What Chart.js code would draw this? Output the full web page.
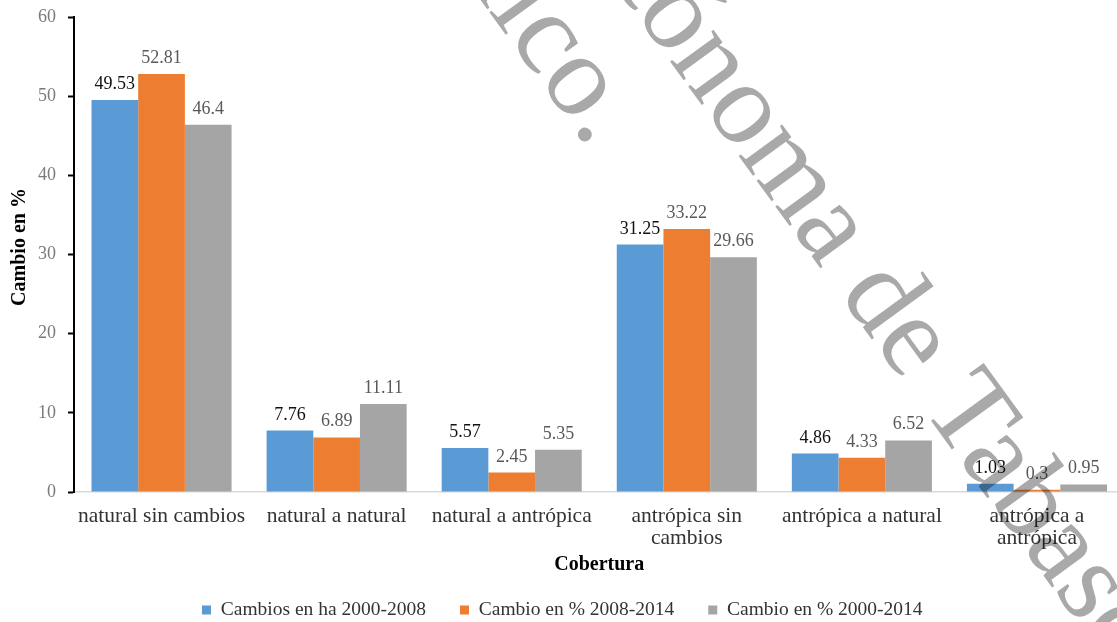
<!DOCTYPE html>
<html>
<head>
<meta charset="utf-8">
<title>Cambio de cobertura</title>
<script src="https://cdn.jsdelivr.net/npm/chart.js@4.4.1/dist/chart.umd.min.js"></script>
<style>
  html, body { margin: 0; padding: 0; overflow: hidden; background: #ffffff; }
  #wrap { width: 1134px; height: 622px; }
</style>
</head>
<body>
<div id="wrap"><canvas id="chart" width="1134" height="622"></canvas></div>
<script>
// Coverage change categories (two-line labels wrap as in the published figure)
const categories = [
  'natural sin cambios',
  'natural a natural',
  'natural a antrópica',
  ['antrópica sin', 'cambios'],
  'antrópica a natural',
  ['antrópica a', 'antrópica']
];

const seriesNames = [
  'Cambios en ha 2000-2008',
  'Cambio en % 2008-2014',
  'Cambio en % 2000-2014'
];

const cambiosHa2000_2008 = [49.53, 7.76, 5.57, 31.25, 4.86, 1.03];
const cambioPct2008_2014 = [52.81, 6.89, 2.45, 33.22, 4.33, 0.3];
const cambioPct2000_2014 = [46.4, 11.11, 5.35, 29.66, 6.52, 0.95];

const yMin = 0;
const yMax = 60;
const yStep = 10;

const watermarkLines = ['Universidad Juárez Autónoma de Tabasco.', 'México.'];

const SERIF = '"Liberation Serif", "Times New Roman", Times, serif';
const seriesColors = ['#5b9bd5', '#ed7d31', '#a5a5a5'];
const valueLabelColors = ['#111111', '#595959', '#595959'];

// Value printed above every bar
const valueLabels = {
  id: 'valueLabels',
  afterDatasetsDraw(chart) {
    const ctx = chart.ctx;
    ctx.save();
    ctx.font = '18px ' + SERIF;
    ctx.textAlign = 'center';
    ctx.textBaseline = 'alphabetic';
    chart.data.datasets.forEach((ds, i) => {
      const meta = chart.getDatasetMeta(i);
      ctx.fillStyle = valueLabelColors[i];
      meta.data.forEach((bar, j) => {
        ctx.fillText(String(ds.data[j]), bar.x, bar.y - 11);
      });
    });
    ctx.restore();
  }
};

// Diagonal institutional watermark laid over the whole figure
const watermark = {
  id: 'watermark',
  afterDraw(chart) {
    const ctx = chart.ctx;
    const size = 117;
    ctx.save();
    ctx.globalCompositeOperation = 'multiply';
    ctx.fillStyle = '#a9a9a9';
    ctx.font = size + 'px ' + SERIF;
    ctx.translate(634, 12);
    ctx.rotate(54 * Math.PI / 180);
    ctx.textBaseline = 'alphabetic';
    ctx.textAlign = 'left';
    const lead = ctx.measureText('Universidad Juárez Aut').width;
    ctx.fillText(watermarkLines[0], -lead, 0);
    ctx.textAlign = 'right';
    ctx.fillText(watermarkLines[1], 85, size);
    ctx.restore();
  }
};

const datasets = [cambiosHa2000_2008, cambioPct2008_2014, cambioPct2000_2014].map((values, i) => ({
  label: seriesNames[i],
  data: values,
  backgroundColor: seriesColors[i],
  borderWidth: 0,
  categoryPercentage: 0.8,
  barPercentage: 1.0
}));

new Chart(document.getElementById('chart'), {
  type: 'bar',
  data: { labels: categories, datasets },
  plugins: [valueLabels, watermark],
  options: {
    responsive: false,
    animation: false,
    devicePixelRatio: 1,
    layout: { padding: { top: 17, right: 9.5, left: 0, bottom: 0 } },
    plugins: {
      tooltip: { enabled: false },
      legend: {
        position: 'bottom',
        maxHeight: 55.75,
        labels: {
          boxWidth: 9,
          boxHeight: 9,
          padding: 34,
          color: '#333333',
          font: { family: SERIF, size: 19.5 }
        }
      }
    },
    scales: {
      x: {
        offset: true,
        grid: { display: false, drawTicks: false },
        border: { display: true, color: '#d9d9d9', width: 1.5 },
        ticks: {
          color: '#333333',
          font: { family: SERIF, size: 21.5, lineHeight: 1 },
          padding: 14,
          maxRotation: 0,
          autoSkip: false
        },
        title: {
          display: true,
          text: 'Cobertura',
          color: '#000000',
          font: { family: SERIF, size: 20, weight: 'bold', lineHeight: 1 },
          padding: { top: 0, bottom: -8.5 }
        },
        afterFit(scale) { scale.height = 74.25; }
      },
      y: {
        min: yMin,
        max: yMax,
        ticks: {
          stepSize: yStep,
          color: '#7a7a7a',
          font: { family: SERIF, size: 18 },
          padding: 12
        },
        grid: {
          drawOnChartArea: false,
          drawTicks: true,
          tickLength: 6,
          tickWidth: 2,
          tickColor: '#000000',
          color: '#000000'
        },
        border: { display: true, color: '#000000', width: 2 },
        title: {
          display: true,
          text: '   Cambio en %',
          color: '#000000',
          font: { family: SERIF, size: 20, weight: 'bold', lineHeight: 1 },
          padding: { top: 10, bottom: 0 }
        },
        afterFit(scale) {
          scale.width = 74;
          scale.paddingTop = 0;
          scale.paddingBottom = 0;
        }
      }
    }
  }
});
</script>
</body>
</html>
